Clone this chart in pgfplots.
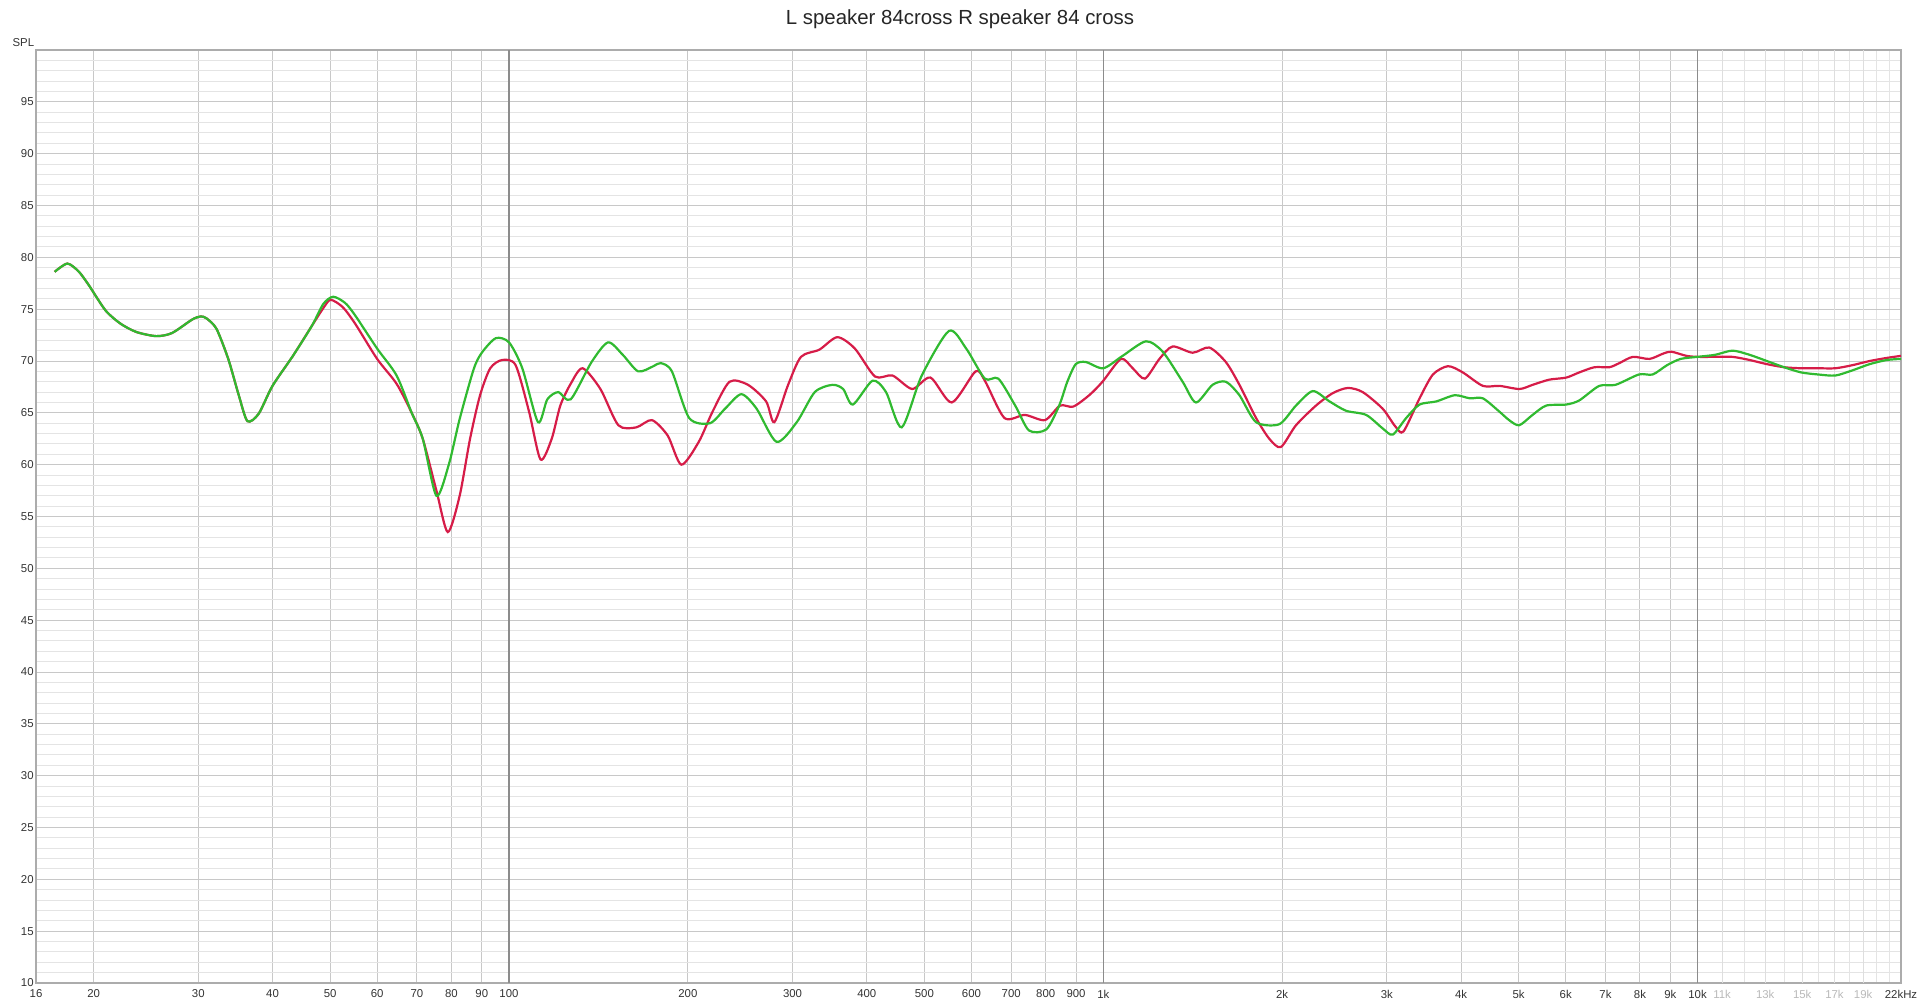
\documentclass[border=0pt]{standalone}
\usepackage{pgfplots}
\pgfplotsset{compat=1.18}
\usepackage{fontspec}
\setmainfont{Liberation Sans}
\definecolor{redc}{RGB}{214,28,72}
\definecolor{greenc}{RGB}{48,186,48}
\definecolor{gmaj}{RGB}{200,200,200}
\definecolor{gmin}{RGB}{228,228,228}
\definecolor{gdec}{RGB}{140,140,140}
\definecolor{ghi}{RGB}{222,222,222}
\begin{document}
\begin{tikzpicture}
\useasboundingbox (0,0) rectangle (960bp,502.5bp);
\begin{axis}[
  at={(18bp,11bp)}, anchor=south west,
  scale only axis, width=932.5bp, height=466.5bp,
  xmode=log, log basis x=10,
  xmin=16, xmax=22000, ymin=10, ymax=100,
  axis line style={draw=gray!65, line width=1.1bp},
  major tick length=0pt, minor tick length=0pt,
  xtick={16,20,30,40,50,60,70,80,90,100,200,300,400,500,600,700,800,900,1000,2000,3000,4000,5000,6000,7000,8000,9000,10000,22000},
  xticklabels={16,20,30,40,50,60,70,80,90,100,200,300,400,500,600,700,800,900,1k,2k,3k,4k,5k,6k,7k,8k,9k,10k,22kHz},
  minor xtick={11000,12000,13000,14000,15000,16000,17000,18000,19000,20000,21000},
  extra x ticks={11000,13000,15000,17000,19000},
  extra x tick labels={11k,13k,15k,17k,19k},
  extra x tick style={grid=none, xticklabel style={text=gray!55}},
  ytick={10,15,...,95},
  minor ytick={10,11,...,100},
  xmajorgrids, ymajorgrids, xminorgrids, yminorgrids,
  major grid style={draw=gmaj, line width=0.5bp},
  minor grid style={draw=gmin, line width=0.5bp},
  /pgf/number format/assume math mode=true,
  tick label style={font=\fontsize{5.7bp}{6.5bp}\selectfont, text=black!80},
  yticklabel style={inner sep=1bp},
  xticklabel style={inner sep=1bp, yshift=-2.3bp},
  clip=true,
]
\draw[draw=ghi, line width=0.5bp] (axis cs:11000,10) -- (axis cs:11000,100);
\draw[draw=ghi, line width=0.5bp] (axis cs:13000,10) -- (axis cs:13000,100);
\draw[draw=ghi, line width=0.5bp] (axis cs:15000,10) -- (axis cs:15000,100);
\draw[draw=ghi, line width=0.5bp] (axis cs:17000,10) -- (axis cs:17000,100);
\draw[draw=ghi, line width=0.5bp] (axis cs:19000,10) -- (axis cs:19000,100);
\draw[draw=gdec, line width=0.6bp] (axis cs:100,10) -- (axis cs:100,100);
\draw[draw=gdec, line width=0.6bp] (axis cs:1000,10) -- (axis cs:1000,100);
\draw[draw=gdec, line width=0.6bp] (axis cs:10000,10) -- (axis cs:10000,100);
\addplot[redc, line width=1.1bp, smooth, tension=0.45] coordinates {
(17.2,78.6) (18.07,79.4) (18.9,78.6) (19.7,77.2) (20,76.6) (21.0,74.8) (22.2,73.6) (23.6,72.8) (25.5,72.4) (27.1,72.7) (29.3,74.0) (30.3,74.3) (31.0,74.1) (32.2,73.1) (33.7,70.2) (35.1,66.7) (36.3,64.2) (37.9,64.9) (40,67.6) (43.3,70.5) (46.6,73.4)
(48.7,75.1) (50.1,75.9) (52.5,75.2) (55.1,73.6) (60,70.2) (64.7,67.8) (68.6,65.0) (71.6,62.5) (75.5,57.5) (78.9,53.5) (82.6,57.0) (86,62.5) (89.4,66.7) (93,69.3) (97.4,70.1) (102.6,69.6) (108.1,65.1) (113,60.5) (118,62.5) (122,65.7) (127,67.8) (133,69.3) (142.5,67.3) (152.8,63.8) (163.8,63.6) (174,64.3) (185,62.8) (195,60.0) (208.6,62.2) (220,65.1) (235,68.0) (252.5,67.7) (270.8,66.1) (279.6,64.1) (294.9,67.7) (310,70.4) (333,71.1) (356.8,72.3) (382,71.2) (413,68.5) (442,68.6) (477,67.3) (512,68.4) (556,66.0) (609.7,69.0) (632,68.1) (682,64.5) (738,64.8) (798,64.3) (846,65.7) (890,65.6) (947,66.7) (997,68.0) (1071,70.2) (1121,69.3) (1175,68.3) (1243,70.2) (1308,71.4) (1414,70.8) (1508,71.3) (1608,69.9) (1695,67.7) (1808,64.5) (1903,62.5) (1990,61.7) (2110,63.8) (2280,65.7) (2433,66.9) (2580,67.4) (2733,67.0) (2952,65.4) (3100,63.7) (3200,63.2) (3406,66.4) (3587,68.7) (3803,69.5) (4027,68.9) (4353,67.6) (4644,67.6) (5017,67.3) (5277,67.7) (5628,68.2) (6012,68.4) (6324,68.9) (6707,69.4) (7106,69.4) (7389,69.8) (7784,70.4) (8300,70.2) (8740,70.7) (9032,70.9) (9572,70.5) (10000,70.4) (10710,70.4) (11450,70.4) (12230,70.1) (13080,69.7) (13980,69.4) (14940,69.3) (15960,69.3) (17060,69.3) (18230,69.6) (19490,70.0) (20830,70.3) (22000,70.5)
};
\addplot[greenc, line width=1.1bp, smooth, tension=0.45] coordinates {
(17.2,78.6) (18.07,79.4) (18.9,78.6) (19.7,77.2) (20,76.6) (21.0,74.8) (22.2,73.6) (23.6,72.8) (25.5,72.4) (27.1,72.7) (29.3,74.0) (30.3,74.3) (31.0,74.1) (32.2,73.1) (33.7,70.2) (35.1,66.7) (36.3,64.2) (37.9,64.9) (40,67.6) (43.3,70.5) (46.6,73.4)
(48.7,75.5) (50.6,76.2) (53,75.6) (55.1,74.4) (60,71.2) (64.7,68.6) (68.6,65.0) (71.6,62.5) (75.5,57.0) (79.2,60.0) (82.6,64.4) (87.2,69.2) (90,70.8) (95,72.2) (100,71.8) (105.3,69.3) (111.9,64.1) (116,66.3) (121,67.0) (127,66.3) (137.7,69.9) (146.8,71.8) (155.4,70.6) (165,69.0) (175,69.5) (180,69.8) (188,69.0) (201,64.5) (217.9,64.0) (231,65.4) (246,66.8) (261,65.4) (282,62.2) (305,64.1) (327,67.0) (350,67.7) (365,67.3) (379,65.8) (409,68.1) (431,67.0) (458,63.6) (495,68.6) (550,72.9) (588,71.2) (632,68.3) (666,68.3) (711,65.7) (750,63.3) (802,63.4) (843,65.7) (870,68.0) (899,69.7) (935,69.9) (1000,69.3) (1078,70.5) (1180,71.9) (1259,70.9) (1360,68.0) (1432,66.0) (1527,67.7) (1608,68.0) (1695,66.7) (1808,64.1) (1978,63.9) (2110,65.7) (2252,67.1) (2403,66.1) (2562,65.2) (2769,64.8) (2952,63.5) (3070,62.9) (3234,64.5) (3406,65.8) (3634,66.1) (3904,66.7) (4140,66.4) (4353,66.4) (4644,65.1) (4818,64.3) (5010,63.8) (5277,64.8) (5563,65.7) (6012,65.8) (6324,66.2) (6832,67.6) (7277,67.7) (7970,68.7) (8406,68.7) (8886,69.6) (9364,70.2) (10000,70.4) (10710,70.6) (11450,71.0) (12230,70.6) (13080,70.0) (13980,69.4) (14940,68.9) (15960,68.7) (17060,68.6) (18230,69.1) (19490,69.7) (20830,70.1) (22000,70.2)
};
\end{axis}
\node[font=\fontsize{10.2bp}{12bp}\selectfont, text=black!85] at (480bp,492.7bp) {L speaker 84cross R speaker 84 cross};
\node[font=\fontsize{5.7bp}{6.5bp}\selectfont, text=black!80] at (11.7bp,481bp) {SPL};
\end{tikzpicture}
\end{document}
